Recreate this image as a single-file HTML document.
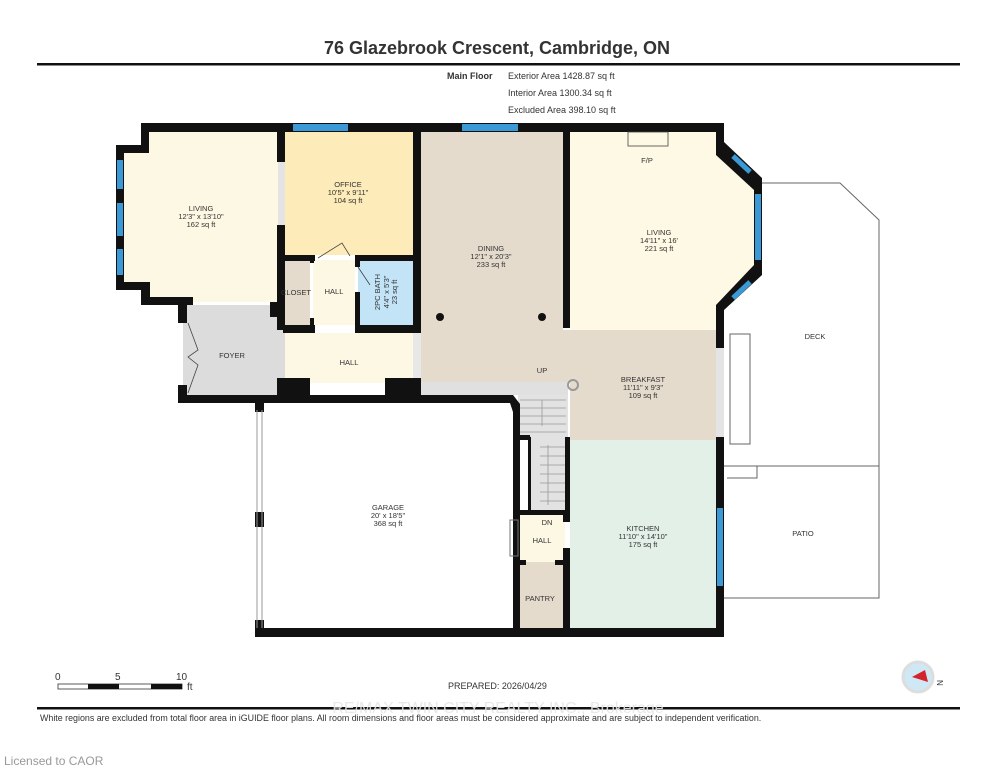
<!DOCTYPE html>
<html><head><meta charset="utf-8"><style>
html,body{margin:0;padding:0;background:#fff;width:995px;height:768px;overflow:hidden}
svg{display:block}
text{font-family:"Liberation Sans",sans-serif;fill:#333}
.r{font-size:7.5px;text-anchor:middle}
</style></head><body>
<svg width="995" height="768" viewBox="0 0 995 768">
<text x="497" y="54" font-size="18" font-weight="bold" text-anchor="middle" fill="#111">76 Glazebrook Crescent, Cambridge, ON</text>
<rect x="37" y="63" width="923" height="2.5" fill="#111"/>
<text x="447" y="79" font-size="9" font-weight="bold">Main Floor</text>
<text x="508" y="79" font-size="9">Exterior Area 1428.87 sq ft</text>
<text x="508" y="96" font-size="9">Interior Area 1300.34 sq ft</text>
<text x="508" y="113" font-size="9">Excluded Area 398.10 sq ft</text>

<g fill="none" stroke="#666" stroke-width="1">
<polyline points="762,183 840,183 879,220 879,598 724,598"/>
<line x1="724" y1="466" x2="879" y2="466"/>
<rect x="730" y="334" width="20" height="110"/>
<polyline points="727,478 757,478 757,466"/>
</g>
<text class="r" x="815" y="339">DECK</text>
<text class="r" x="803" y="536">PATIO</text>

<polygon points="124,150 149,150 149,132 278,132 278,302 149,302 149,285 124,285" fill="#fdf8e3"/>
<rect x="285" y="132" width="128" height="123" fill="#fdebb9"/>
<rect x="421" y="132" width="142" height="250" fill="#e5dbcc"/>
<rect x="421" y="330" width="295" height="52" fill="#e5dbcc"/>
<rect x="570" y="132" width="146" height="198" fill="#fdf9e4"/>
<polygon points="716,148 754,183 754,270 716,305" fill="#fdf9e4"/>
<rect x="570" y="330" width="146" height="110" fill="#e5dbcc"/>
<rect x="570" y="440" width="146" height="188" fill="#e3f0e8"/>
<rect x="183" y="305" width="95" height="92" fill="#dcdcdc"/>
<rect x="278" y="302" width="7" height="95" fill="#dcdcdc"/>
<rect x="285" y="333" width="128" height="50" fill="#fdf8e3"/>
<rect x="413" y="333" width="8" height="50" fill="#e8e8e8"/>
<rect x="285" y="260" width="25" height="65" fill="#e5dbcc"/>
<rect x="313" y="260" width="42" height="65" fill="#fdf8e3"/>
<rect x="358" y="260" width="55" height="65" fill="#c3e3f7"/>
<rect x="278" y="162" width="7" height="63" fill="#e4e4e4"/>
<rect x="421" y="382" width="147" height="13" fill="#e0e0e0"/>
<rect x="518" y="395" width="50" height="42" fill="#e2e2e2"/>
<rect x="530" y="437" width="36" height="73" fill="#e2e2e2"/>
<rect x="520" y="512" width="45" height="50" fill="#fdf8e3"/>
<rect x="520" y="562" width="43" height="66" fill="#e5dbcc"/>
<rect x="716" y="345" width="8" height="92" fill="#e4e4e4"/>
<g stroke="#999" stroke-width="0.8">
<line x1="520" y1="400" x2="566" y2="400"/><line x1="520" y1="408" x2="566" y2="408"/><line x1="520" y1="416" x2="566" y2="416"/><line x1="520" y1="424" x2="566" y2="424"/><line x1="520" y1="432" x2="566" y2="432"/>
<line x1="540" y1="447" x2="566" y2="447"/><line x1="540" y1="456" x2="566" y2="456"/><line x1="540" y1="465" x2="566" y2="465"/><line x1="540" y1="474" x2="566" y2="474"/><line x1="540" y1="483" x2="566" y2="483"/><line x1="540" y1="492" x2="566" y2="492"/><line x1="540" y1="501" x2="566" y2="501"/>
<line x1="542" y1="400" x2="542" y2="426"/><line x1="548" y1="445" x2="548" y2="505"/>
</g>
<circle cx="573" cy="385" r="5" fill="none" stroke="#999" stroke-width="2"/>

<g fill="#111">
<rect x="141" y="123" width="583" height="9"/>
<rect x="141" y="123" width="8" height="30"/>
<rect x="116" y="145" width="33" height="8"/>
<rect x="116" y="145" width="8" height="145"/>
<rect x="116" y="282" width="34" height="8"/>
<rect x="141" y="282" width="9" height="23"/>
<rect x="141" y="297" width="52" height="8"/>
<rect x="178" y="303" width="9" height="20"/>
<rect x="178" y="385" width="9" height="18"/>
<rect x="178" y="395" width="332" height="8"/>
<polygon points="506,395 513,395 520,404 520,412 513,412 510,403"/>
<rect x="513" y="404" width="7" height="233"/>
<rect x="277" y="132" width="8" height="30"/>
<rect x="277" y="225" width="8" height="105"/>
<rect x="270" y="302" width="15" height="15"/>
<rect x="413" y="132" width="8" height="201"/>
<rect x="283" y="255" width="32" height="6"/>
<rect x="355" y="255" width="66" height="6"/>
<rect x="355" y="255" width="5" height="12"/>
<rect x="355" y="292" width="5" height="38"/>
<rect x="310" y="255" width="4" height="8"/><rect x="310" y="318" width="4" height="10"/>
<rect x="283" y="325" width="32" height="8"/>
<rect x="355" y="325" width="66" height="8"/>
<rect x="277" y="378" width="33" height="25"/>
<rect x="385" y="378" width="36" height="25"/>
<rect x="563" y="132" width="7" height="196"/>
<rect x="716" y="123" width="8" height="28"/>
<polygon points="716,142 724,142 762,178 762,190 754,190 716,155"/>
<rect x="754" y="183" width="8" height="88"/>
<polygon points="754,265 762,265 762,275 724,310 724,348 716,348 716,305"/>
<rect x="716" y="437" width="8" height="200"/>
<rect x="255" y="628" width="469" height="9"/>
<rect x="518" y="435" width="12" height="5"/>
<rect x="528" y="437" width="3" height="75"/>
<rect x="565" y="437" width="5" height="75"/>
<rect x="518" y="510" width="52" height="5"/>
<rect x="563" y="512" width="7" height="10"/>
<rect x="563" y="548" width="7" height="80"/>
<rect x="518" y="560" width="8" height="5"/><rect x="555" y="560" width="8" height="5"/>
<rect x="255" y="400" width="9" height="12"/>
<rect x="255" y="512" width="9" height="15"/>
<rect x="255" y="620" width="9" height="12"/>
<rect x="623" y="129" width="60" height="3"/>
</g>
<rect x="628" y="132" width="40" height="14" fill="none" stroke="#444" stroke-width="0.8"/>
<g stroke="#999" fill="none"><line x1="257" y1="410" x2="257" y2="628"/><line x1="262" y1="410" x2="262" y2="628"/><rect x="510" y="520" width="8" height="36" stroke="#777"/></g>
<g fill="#3b9ad6">
<rect x="293" y="124" width="55" height="7"/>
<rect x="462" y="124" width="56" height="7"/>
<rect x="117" y="160" width="6" height="29"/>
<rect x="117" y="203" width="6" height="33"/>
<rect x="117" y="249" width="6" height="26"/>
<rect x="755" y="194" width="6" height="66"/>
<rect x="717" y="508" width="6" height="78"/>
</g>
<g stroke="#3b9ad6" stroke-width="5"><line x1="733" y1="156" x2="750" y2="172"/><line x1="733" y1="298" x2="750" y2="282"/></g>
<circle cx="440" cy="317" r="4" fill="#111"/><circle cx="542" cy="317" r="4" fill="#111"/>
<g stroke="#444" fill="none" stroke-width="0.8"><polyline points="188,323 198,350 188,357 198,365 188,393"/><polyline points="318,258 342,243 350,256"/><polyline points="358,267 370,285"/></g>

<text class="r" x="201" y="211">LIVING</text><text class="r" x="201" y="219">12'3" x 13'10"</text><text class="r" x="201" y="227">162 sq ft</text>
<text class="r" x="348" y="187">OFFICE</text><text class="r" x="348" y="195">10'5" x 9'11"</text><text class="r" x="348" y="203">104 sq ft</text>
<text class="r" x="491" y="251">DINING</text><text class="r" x="491" y="259">12'1" x 20'3"</text><text class="r" x="491" y="267">233 sq ft</text>
<text class="r" x="659" y="235">LIVING</text><text class="r" x="659" y="243">14'11" x 16'</text><text class="r" x="659" y="251">221 sq ft</text>
<text class="r" x="647" y="163">F/P</text>
<text class="r" x="643" y="382">BREAKFAST</text><text class="r" x="643" y="390">11'11" x 9'3"</text><text class="r" x="643" y="398">109 sq ft</text>
<text class="r" x="643" y="531">KITCHEN</text><text class="r" x="643" y="539">11'10" x 14'10"</text><text class="r" x="643" y="547">175 sq ft</text>
<text class="r" x="388" y="510">GARAGE</text><text class="r" x="388" y="518">20' x 18'5"</text><text class="r" x="388" y="526">368 sq ft</text>
<text class="r" x="232" y="358">FOYER</text>
<text class="r" x="334" y="294">HALL</text>
<text class="r" x="349" y="365">HALL</text>
<text class="r" x="296" y="295" font-size="6.5">CLOSET</text>
<text class="r" x="542" y="373">UP</text>
<text class="r" x="547" y="525" font-size="7">DN</text>
<text class="r" x="542" y="543">HALL</text>
<text class="r" x="540" y="601">PANTRY</text>
<text class="r" font-size="7" transform="translate(380,292) rotate(-90)">2PC BATH</text>
<text class="r" font-size="7" transform="translate(389,292) rotate(-90)">4'4" x 5'3"</text>
<text class="r" font-size="7" transform="translate(397,292) rotate(-90)">23 sq ft</text>

<text x="55" y="680" font-size="10">0</text><text x="115" y="680" font-size="10">5</text><text x="176" y="680" font-size="10">10</text>
<rect x="58" y="684" width="124" height="5" fill="#fff" stroke="#333" stroke-width="0.8"/>
<rect x="88" y="684" width="31" height="5" fill="#111"/><rect x="151" y="684" width="31" height="5" fill="#111"/>
<text x="187" y="690" font-size="10">ft</text>
<text x="448" y="689" font-size="9">PREPARED: 2026/04/29</text>
<circle cx="918" cy="677" r="15" fill="#cfe8f6" stroke="#ddd" stroke-width="3"/>
<polygon points="912,677 925,670 928,682" fill="#d4232a"/>
<text x="938" y="685" font-size="8" transform="rotate(90 940 682)">N</text>
<rect x="37" y="707" width="923" height="2.5" fill="#111"/>
<text x="498" y="713" font-size="16" text-anchor="middle" style="fill:#e6e6e6;opacity:0.9">RE/MAX TWIN CITY REALTY INC., Brokerage</text>
<text x="40" y="721" font-size="8.9" fill="#222">White regions are excluded from total floor area in iGUIDE floor plans. All room dimensions and floor areas must be considered approximate and are subject to independent verification.</text>
<text x="4" y="765" font-size="12" style="fill:#999">Licensed to CAOR</text>
</svg>
</body></html>
